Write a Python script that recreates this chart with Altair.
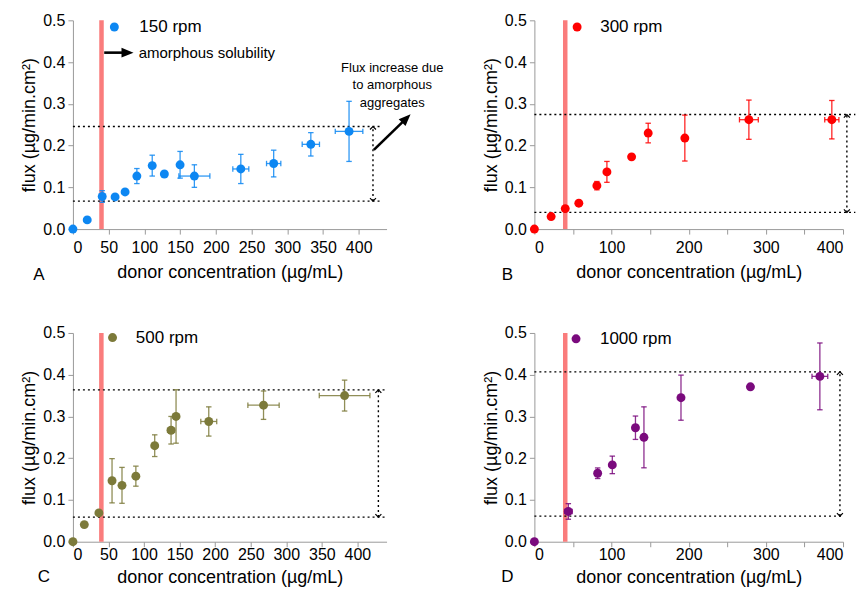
import altair as alt
import pandas as pd

FONT = "Liberation Sans"

# ---------------- data ----------------
A_x = [0, 20, 41, 59, 73, 89.5, 111, 128, 150, 170, 235, 281, 333, 386.5]
A_y = [0, 0.022, 0.078, 0.077, 0.089, 0.127, 0.152, 0.132, 0.154, 0.127, 0.144, 0.157, 0.203, 0.234]
A_yerr = [0, 0, 0.014, 0, 0, 0.018, 0.025, 0, 0.032, 0.027, 0.035, 0.032, 0.028, 0.072]
A_xerr = [0, 0, 0, 0, 0, 0, 0, 0, 0, 21.7, 11.2, 10, 12.1, 19.3]

B_x = [0, 21.7, 40, 57.6, 81, 94, 126, 147.5, 195, 278, 385.5]
B_y = [0, 0.030, 0.049, 0.062, 0.104, 0.137, 0.173, 0.230, 0.218, 0.262, 0.262]
B_yerr = [0, 0, 0, 0, 0.010, 0.025, 0, 0.0235, 0.055, 0.047, 0.046]
B_xerr = [0, 0, 0, 0, 0, 0, 0, 0, 0, 12.2, 9.2]

C_x = [0, 16, 36.5, 55, 69, 88.5, 115, 138, 145, 191, 268, 382]
C_y = [0, 0.041, 0.069, 0.146, 0.135, 0.157, 0.230, 0.267, 0.300, 0.288, 0.327, 0.350]
C_yerr = [0, 0, 0, 0.053, 0.043, 0.024, 0.026, 0.033, 0.064, 0.035, 0.034, 0.037]
C_xerr = [0, 0, 0, 0, 0, 0, 0, 5, 0, 11.2, 22, 35.6]

D_x = [0, 44, 82, 101, 131, 142, 190, 280, 370]
D_y = [0, 0.0725, 0.164, 0.184, 0.273, 0.250, 0.345, 0.371, 0.396]
D_yerr = [0, 0.0187, 0.0127, 0.021, 0.028, 0.073, 0.054, 0, 0.080]
D_xerr = [0, 5, 0, 0, 0, 0, 0, 0, 10.2]

labels = ["150 rpm", "300 rpm", "500 rpm", "1000 rpm"]
letters = ["A", "B", "C", "D"]
colors = ["#0D87F2", "#FF0000", "#7C7A3A", "#7A0A7D"]
ref_low = [0.067, 0.040, 0.059, 0.0613]
ref_high = [0.2456, 0.2743, 0.3636, 0.4068]
amorphous_solubility = 40

x_ticks = [0, 50, 100, 150, 200, 250, 300, 350, 400]
y_ticks = [0.0, 0.1, 0.2, 0.3, 0.4, 0.5]

X_TITLE = "donor concentration (µg/mL)"
Y_TITLE = "flux (µg/min.cm²)"

CAP_H = "M -1 0 L 1 0"
CAP_V = "M 0 -1 L 0 1"
HEAD = "M -1 -0.8 L 1 0 L -1 0.8 Z"
CHEV_UP = "M -1 1 L 0 0 L 1 1"
CHEV_DN = "M -1 -1 L 0 0 L 1 -1"


def panel(i, xs, ys, xerr, yerr, xmax, width, line_end, arrow_x,
          leg_x, leg_y, txt_x, letter_x, letter_y, top_row, extra=False):
    color = colors[i]
    df = pd.DataFrame({"x": xs, "y": ys, "xerr": xerr, "yerr": yerr})
    df["ylo"] = df.y - df.yerr
    df["yhi"] = df.y + df.yerr
    df["xlo"] = df.x - df.xerr
    df["xhi"] = df.x + df.xerr

    xscale = alt.Scale(domain=[0, xmax], nice=False, zero=False)
    yscale = alt.Scale(domain=[0, 0.5], nice=False)
    if top_row:
        xaxis = alt.Axis(values=x_ticks, title=X_TITLE, format="d", labelPadding=5, titlePadding=8)
    else:
        xaxis = alt.Axis(values=x_ticks, title=X_TITLE, format="d", labelPadding=0, titlePadding=6)
    yaxis = alt.Axis(values=y_ticks, title=Y_TITLE, format=".1f", labelPadding=3, titlePadding=4)

    def X(f):
        return alt.X(f, type="quantitative", scale=xscale, axis=xaxis)

    def Y(f):
        return alt.Y(f, type="quantitative", scale=yscale, axis=yaxis)

    lo, hi = ref_low[i], ref_high[i]

    sol = alt.Chart(pd.DataFrame({"x": [amorphous_solubility], "y0": [0.0], "y1": [0.5]})).mark_rule(
        color="#FA7C7C", strokeWidth=4.5).encode(x=X("x"), y=Y("y0"), y2="y1")

    refs = alt.Chart(pd.DataFrame({"x0": [0, 0], "x1": [line_end, line_end], "y": [lo, hi]})).mark_rule(
        color="black", strokeWidth=1.4, strokeDash=[2, 3]).encode(x=X("x0"), x2="x1", y=Y("y"))

    varrow = alt.Chart(pd.DataFrame({"x": [arrow_x], "y0": [lo], "y1": [hi]})).mark_rule(
        color="black", strokeWidth=1.4, strokeDash=[2, 3]).encode(x=X("x"), y=Y("y0"), y2="y1")
    chev_up = alt.Chart(pd.DataFrame({"x": [arrow_x], "y": [hi]})).mark_point(
        shape=CHEV_UP, filled=False, size=36, color="black", strokeWidth=1.2, opacity=1).encode(x=X("x"), y=Y("y"))
    chev_dn = alt.Chart(pd.DataFrame({"x": [arrow_x], "y": [lo]})).mark_point(
        shape=CHEV_DN, filled=False, size=36, color="black", strokeWidth=1.2, opacity=1).encode(x=X("x"), y=Y("y"))

    base = alt.Chart(df)
    vbar = base.transform_filter("datum.yerr > 0").mark_rule(color=color, strokeWidth=1.3, opacity=0.85).encode(
        x=X("x"), y=Y("ylo"), y2="yhi")
    vcap = base.transform_filter("datum.yerr > 0").transform_fold(["ylo", "yhi"], as_=["k", "v"]).mark_point(
        shape=CAP_H, filled=False, size=30, color=color, strokeWidth=1.3, opacity=0.85).encode(x=X("x"), y=Y("v"))
    hbar = base.transform_filter("datum.xerr > 0").mark_rule(color=color, strokeWidth=1.3, opacity=0.85).encode(
        x=X("xlo"), x2="xhi", y=Y("y"))
    hcap = base.transform_filter("datum.xerr > 0").transform_fold(["xlo", "xhi"], as_=["k", "v"]).mark_point(
        shape=CAP_V, filled=False, size=30, color=color, strokeWidth=1.3, opacity=0.85).encode(x=X("v"), y=Y("y"))
    pts = base.mark_circle(size=80, color=color, opacity=1).encode(x=X("x"), y=Y("y"))

    leg_pt = alt.Chart(pd.DataFrame({"x": [leg_x], "y": [leg_y]})).mark_circle(
        size=80, color=color, opacity=1).encode(x=X("x"), y=Y("y"))
    leg_tx = alt.Chart(pd.DataFrame({"x": [txt_x], "y": [leg_y], "t": [labels[i]]})).mark_text(
        align="left", baseline="middle", font=FONT, fontSize=17, color="black").encode(
        x=X("x"), y=Y("y"), text="t:N")

    letter = alt.Chart(pd.DataFrame({"t": [letters[i]]})).mark_text(
        align="center", baseline="middle", font=FONT, fontSize=17, color="black").encode(
        x=alt.value(letter_x), y=alt.value(letter_y), text="t:N")

    layers = [sol, refs, varrow, chev_up, chev_dn, vbar, vcap, hbar, hcap, pts, leg_pt, leg_tx, letter]

    if extra:
        # "amorphous solubility" arrow
        harr = alt.Chart(pd.DataFrame({"x0": [43.8], "x1": [76.4], "y": [0.4226]})).mark_rule(
            color="black", strokeWidth=2.6).encode(x=X("x0"), x2="x1", y=Y("y"))
        hhead = alt.Chart(pd.DataFrame({"x": [76.4], "y": [0.4226]})).mark_point(
            shape=HEAD, filled=True, size=144, color="black", opacity=1).encode(x=X("x"), y=Y("y"))
        htext = alt.Chart(pd.DataFrame({"x": [92], "y": [0.4226], "t": ["amorphous solubility"]})).mark_text(
            align="left", baseline="middle", font=FONT, fontSize=15, color="black").encode(
            x=X("x"), y=Y("y"), text="t:N")
        # "Flux increase" arrow
        darr = alt.Chart(pd.DataFrame({"x0": [421.2], "x1": [466.7], "y0": [0.1897], "y1": [0.265]})).mark_rule(
            color="black", strokeWidth=2.6).encode(x=X("x0"), x2="x1", y=Y("y0"), y2="y1")
        dhead = alt.Chart(pd.DataFrame({"x": [466.7], "y": [0.265]})).mark_point(
            shape=HEAD, filled=True, size=144, color="black", opacity=1, angle=315).encode(x=X("x"), y=Y("y"))
        dtext = alt.Chart(pd.DataFrame({
            "x": [447, 447, 447],
            "y": [0.387, 0.345, 0.303],
            "t": ["Flux increase due", "to amorphous", "aggregates"]})).mark_text(
            align="center", baseline="middle", font=FONT, fontSize=13, color="black").encode(
            x=X("x"), y=Y("y"), text="t:N")
        layers += [harr, hhead, htext, darr, dhead, dtext]

    return alt.layer(*layers).properties(width=width, height=209)


pA = panel(0, A_x, A_y, A_xerr, A_yerr, 439, 314, 431, 420, 58, 0.484, 93, -34, 255, True, extra=True)
pB = panel(1, B_x, B_y, B_xerr, B_yerr, 400, 309, 416, 405, 55.4, 0.484, 85.3, -27, 255, True)
pC = panel(2, C_x, C_y, C_xerr, C_yerr, 441, 314, 442, 429.5, 55.7, 0.489, 88.5, -29, 244, False)
pD = panel(3, D_x, D_y, D_xerr, D_yerr, 400, 309, 399, 396, 54, 0.486, 85, -27, 244, False)

chart = alt.concat(pA, pB, pC, pD, columns=2, spacing={"row": 104, "column": 148}, bounds="flush").configure_view(
    stroke=None
).configure_axis(
    grid=False,
    domainColor="#9a9a9a",
    tickColor="#9a9a9a",
    tickSize=5,
    labelFont=FONT,
    labelFontSize=16,
    labelColor="black",
    titleFont=FONT,
    titleFontSize=18,
    titleFontWeight="normal",
    titleColor="black",
).properties(padding={"left": 12, "top": 4, "right": 0, "bottom": 0})

chart.save("out.html", embed_options={"renderer": "svg", "actions": False})
